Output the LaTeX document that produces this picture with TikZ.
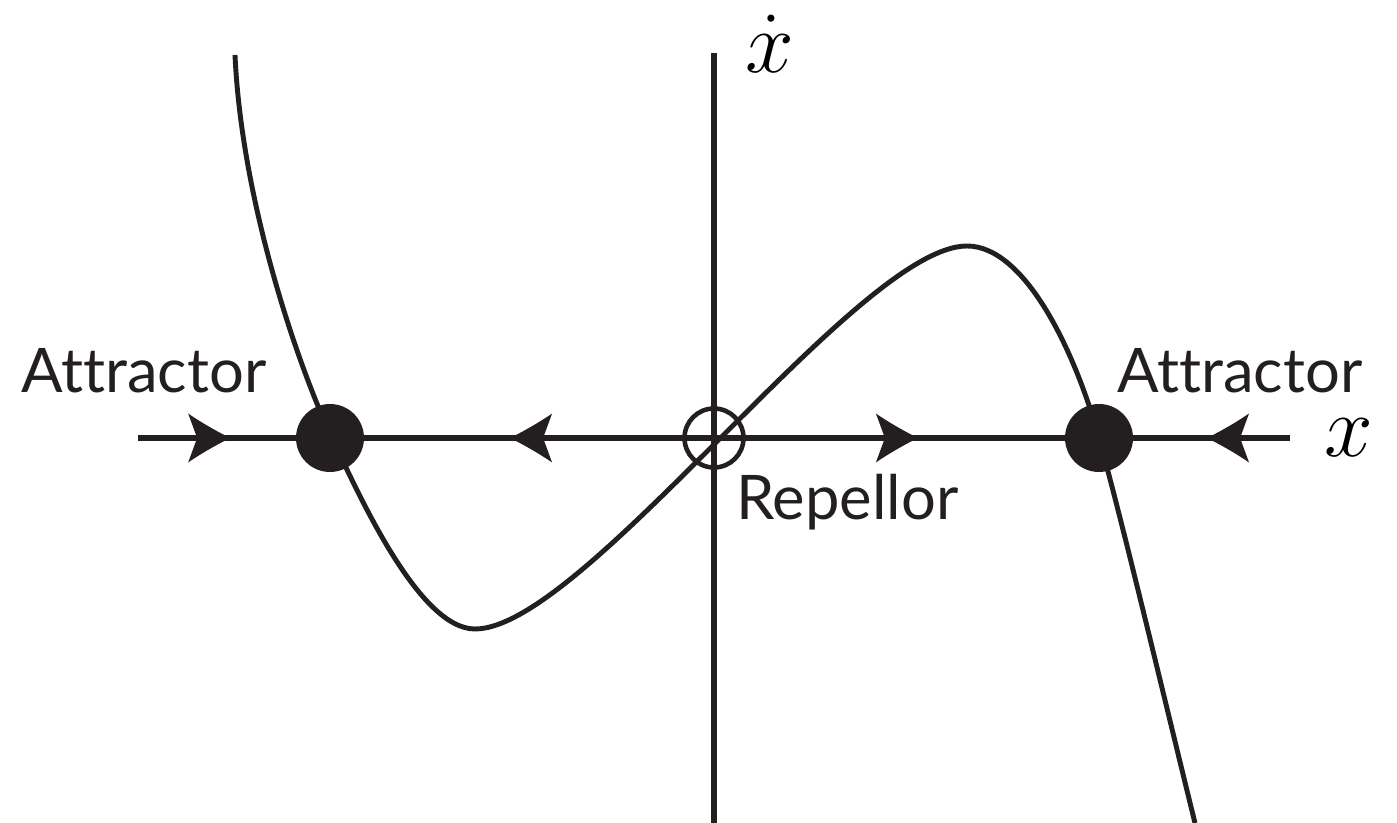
\documentclass[tikz,border=0pt]{standalone}
\usepackage{fontspec}
\setmainfont{Lato}[Ligatures=NoCommon]
\usetikzlibrary{decorations.markings}
\definecolor{ink}{RGB}{35,31,32}
% swept arrow head, tip at the mark; #1 = 1 forward, -1 backward
\newcommand{\flowhead}[1]{\fill[ink, xscale=#1] (0,0) .. controls (-0.14,0.07) and (-0.29,0.155) .. (-0.42,0.245)
    -- (-0.33,0) -- (-0.42,-0.245) .. controls (-0.29,-0.155) and (-0.14,-0.07) .. cycle;}

\begin{document}
\begin{tikzpicture}[
        axis/.style={line width=1.5pt, draw=ink},
        flow/.style={line width=1.4pt, draw=ink},
        attractor/.style={circle, fill=ink, minimum size=6.8mm, inner sep=0pt},
        repellor/.style={circle, draw=ink, line width=1.3pt, minimum size=5.9mm, inner sep=0pt},
        lbl/.style={font=\fontsize{17.5}{21}\selectfont, anchor=base, text=ink},
        mlbl/.style={font=\fontsize{25}{30}\selectfont, anchor=base, text=black}
    ]
        \useasboundingbox (-7.14,-3.85) rectangle (6.83,4.38);

        % axes
        \coordinate (xl) at (-5.76,0);
        \coordinate (xr) at (5.76,0);
        \coordinate (yb) at (0,-3.85);
        \coordinate (yt) at (0,3.85);
        \draw[axis, postaction={decorate}, decoration={markings,
            mark=at position 0.08 with {\flowhead{1}},
            mark=at position 0.323 with {\flowhead{-1}},
            mark=at position 0.677 with {\flowhead{1}},
            mark=at position 0.928 with {\flowhead{-1}}}] (xl) -- (xr);
        \draw[axis] (yb) -- (yt);

        % the flow curve
        \draw[flow] (-4.79,3.83) .. controls (-4.72,2.3) and (-4.12,0.63) .. (-3.82,0)
            .. controls (-3.55,-0.57) and (-2.95,-1.91) .. (-2.39,-1.91)
            .. controls (-1.30,-1.91) and (1.44,1.92) .. (2.53,1.92)
            .. controls (3.1,1.92) and (3.6,0.9) .. (3.85,0)
            .. controls (4.1,-0.9) and (4.55,-2.8) .. (4.81,-3.85);

        % fixed points
        \node[attractor] (attL) at (-3.84,0) {};
        \node[attractor] (attR) at (3.85,0) {};
        \node[repellor] (rep) at (0,0) {};

        % labels
        \node[lbl] (attLlbl) at (-5.70,0.45) {Attractor};
        \node[lbl] (attRlbl) at (5.26,0.45) {Attractor};
        \node[lbl] (replbl) at (1.335,-0.82) {Repellor};
        \node[mlbl] (xdotlbl) at (0.555,3.65) {$\dot{x}$};
        \node[mlbl] (xlbl) at (6.35,-0.19) {$x$};
    \end{tikzpicture}
\end{document}
